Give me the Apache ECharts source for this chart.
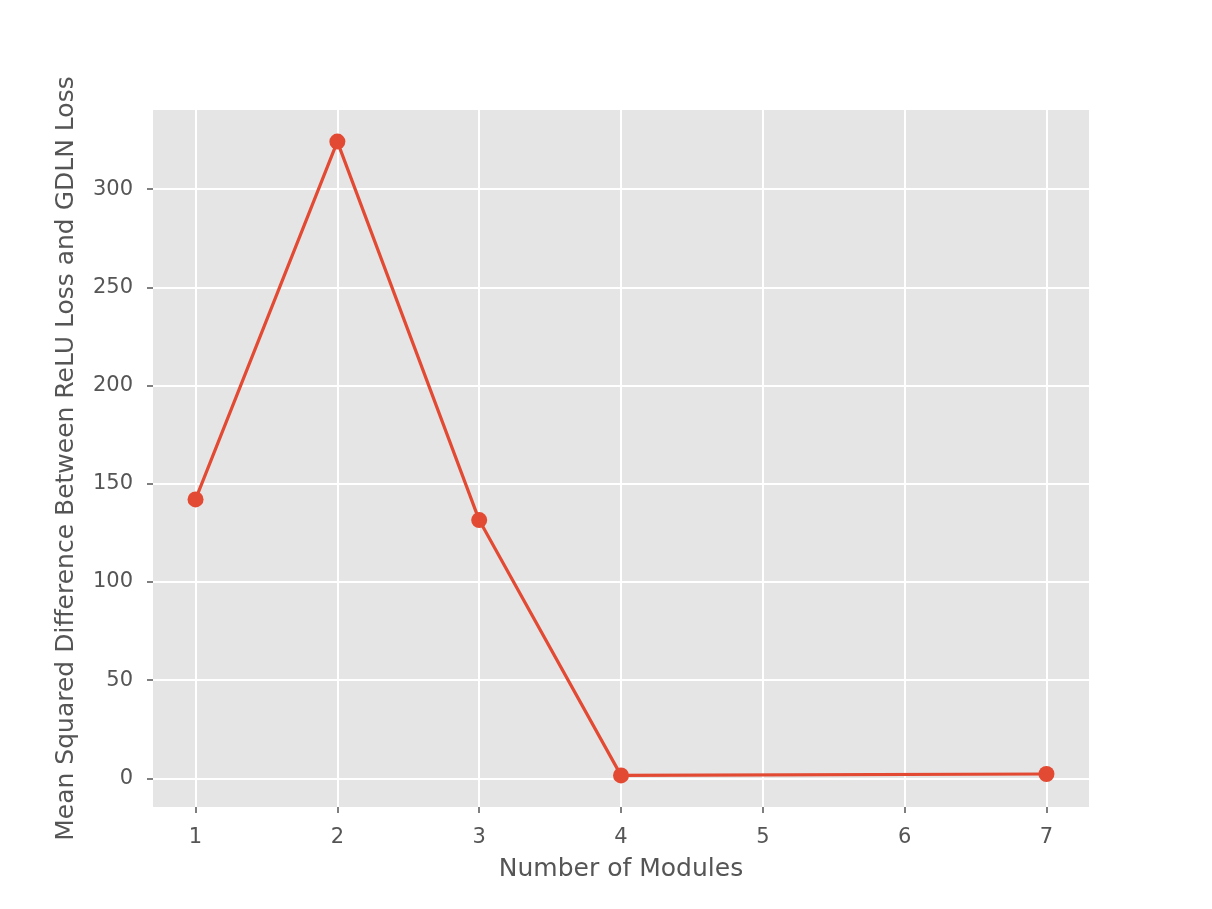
<!DOCTYPE html>
<html>
<head>
<meta charset="utf-8">
<script src="https://cdn.jsdelivr.net/npm/echarts@6/dist/echarts.min.js"></script>
<style>
  html, body { margin: 0; padding: 0; background: #fff; }
  #chart { width: 1212px; height: 909px; }
</style>
</head>
<body>
<div id="chart"></div>
<script>
// data
const modules = [1, 2, 3, 4, 7];
const mseDiff = [142.0, 324.2, 131.5, 1.5, 2.2];
const xTicks = [1, 2, 3, 4, 5, 6, 7];
const yTicks = [0, 50, 100, 150, 200, 250, 300];

const chart = echarts.init(document.getElementById("chart"));
const tickStyle = { color: "#555555", width: 1.5 };
const gridLine = { color: "#ffffff", width: 2 };

chart.setOption({
  animation: false,
  textStyle: { fontFamily: "DejaVu Sans" },
  grid: {
    left: 153,
    right: 123,
    top: 110,
    bottom: 102,
    show: true,
    backgroundColor: "#E5E5E5",
    borderWidth: 0,
  },
  xAxis: {
    type: "value",
    min: 0.7,
    max: 7.3,
    name: "Number of Modules",
    nameLocation: "middle",
    nameGap: 50,
    nameTextStyle: { fontSize: 25, color: "#555555" },
    axisLine: { show: false, onZero: false },
    axisTick: { show: true, length: 6, lineStyle: tickStyle, customValues: xTicks },
    axisLabel: { fontSize: 21, color: "#555555", margin: 20, customValues: xTicks },
    splitLine: { show: true, lineStyle: gridLine, customValues: xTicks },
  },
  yAxis: {
    type: "value",
    min: -14.6,
    max: 340.3,
    name: "Mean Squared Difference Between ReLU Loss and GDLN Loss",
    nameLocation: "middle",
    nameGap: 74,
    nameRotate: 90,
    nameTextStyle: { fontSize: 25, color: "#555555" },
    axisLine: { show: false, onZero: false },
    axisTick: { show: true, length: 6, lineStyle: tickStyle, customValues: yTicks },
    axisLabel: { fontSize: 21, color: "#555555", margin: 20, customValues: yTicks },
    splitLine: { show: true, lineStyle: gridLine, customValues: yTicks },
  },
  series: [
    {
      type: "line",
      data: modules.map((m, i) => [m, mseDiff[i]]),
      symbol: "circle",
      symbolSize: 16,
      showAllSymbol: true,
      lineStyle: { color: "#E24A33", width: 3.2 },
      itemStyle: { color: "#E24A33" },
    },
  ],
});
</script>
</body>
</html>
